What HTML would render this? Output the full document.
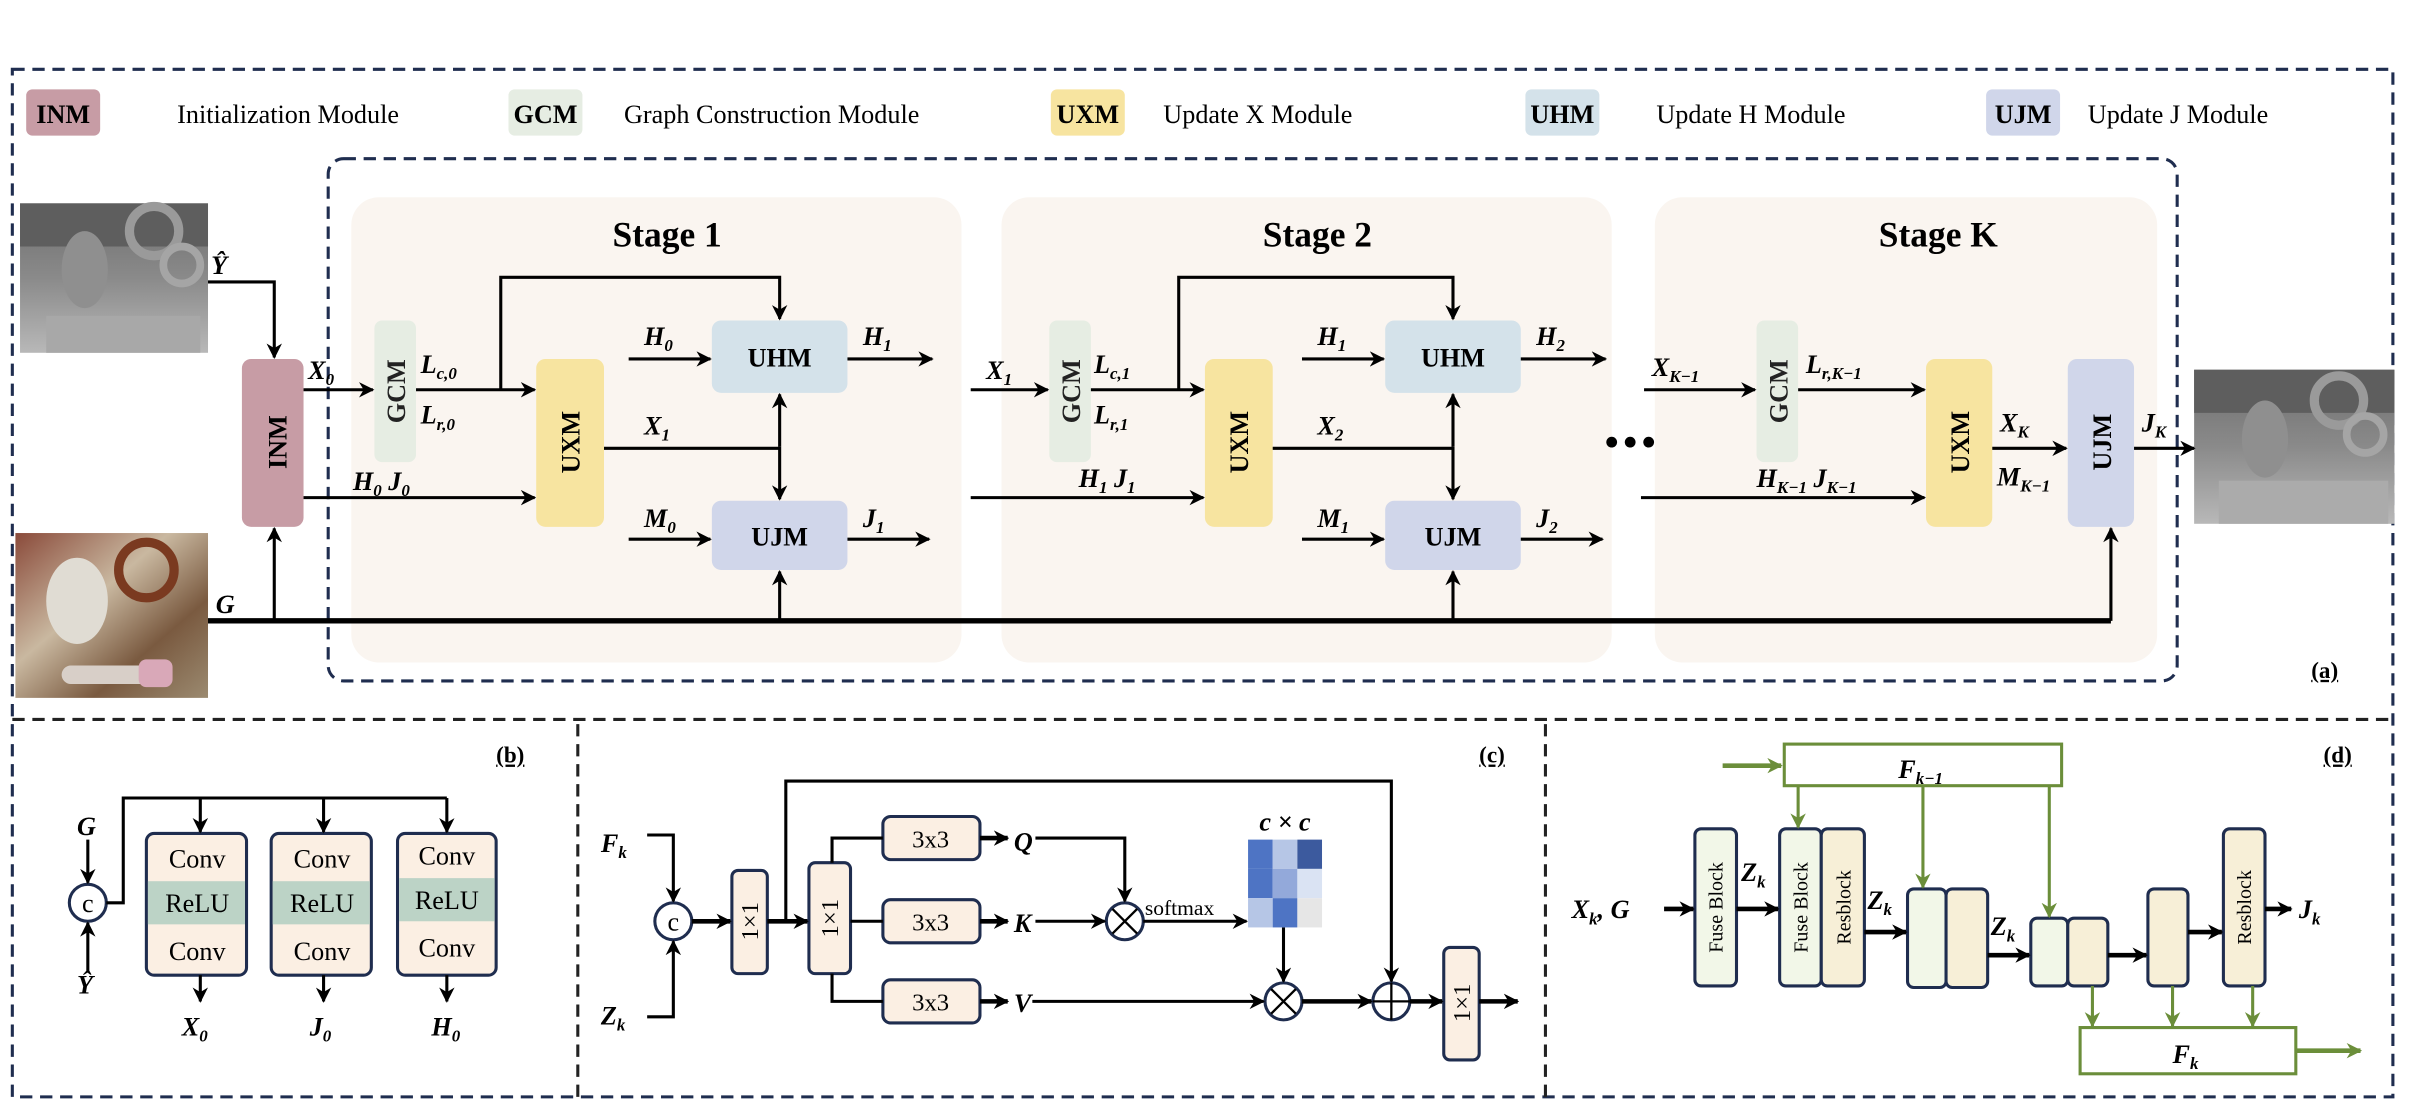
<!DOCTYPE html>
<html><head><meta charset="utf-8"><style>
html,body{margin:0;padding:0;background:#fff;width:2416px;height:1120px;overflow:hidden}
svg{display:block}
text{font-family:"Liberation Serif",serif}
.m{font-weight:bold;font-style:italic;font-size:17px}
.s{font-size:11px}
.lg{font-size:17px}
.bx{font-weight:bold;font-size:17px}
</style></head><body>
<svg width="2416" height="1120" viewBox="0 0 1568 727" preserveAspectRatio="none" xmlns="http://www.w3.org/2000/svg">
<defs>
<marker id="a" viewBox="0 0 10 10" refX="9" refY="5" markerWidth="10" markerHeight="10" markerUnits="userSpaceOnUse" orient="auto"><path d="M0,0 L10,5 L0,10 L3,5z" fill="#000"/></marker>
<marker id="g" viewBox="0 0 10 10" refX="9" refY="5" markerWidth="10" markerHeight="10" markerUnits="userSpaceOnUse" orient="auto"><path d="M0,0 L10,5 L0,10 L3,5z" fill="#6b8e3a"/></marker>
<linearGradient id="dep" x1="0" y1="0" x2="0" y2="1"><stop offset="0" stop-color="#6e6e6e"/><stop offset="0.5" stop-color="#8a8a8a"/><stop offset="1" stop-color="#b8b8b8"/></linearGradient>
<linearGradient id="rgb" x1="0" y1="0" x2="1" y2="1"><stop offset="0" stop-color="#8a4a3a"/><stop offset="0.4" stop-color="#c9b8a0"/><stop offset="0.7" stop-color="#7a5a40"/><stop offset="1" stop-color="#9b8a70"/></linearGradient>
</defs>

<g fill="none" stroke="#1f2d4f" stroke-width="2" stroke-dasharray="8,5">
<rect x="8" y="45" width="1545" height="667"/>
<line x1="8" y1="467" x2="1553" y2="467" stroke="#222"/>
<line x1="375" y1="470" x2="375" y2="712" stroke="#222"/>
<line x1="1003" y1="470" x2="1003" y2="712" stroke="#222"/>
<rect x="213" y="103" width="1200" height="339" rx="10"/>
</g>

<rect x="17" y="58" width="48" height="30" rx="4" fill="#c79ca5"/><text x="41" y="80" text-anchor="middle" class="bx">INM</text>
<text x="115" y="80" class="lg">Initialization Module</text>
<rect x="330" y="58" width="48" height="30" rx="4" fill="#e6ede3"/><text x="354" y="80" text-anchor="middle" class="bx">GCM</text>
<text x="405" y="80" class="lg">Graph Construction Module</text>
<rect x="682" y="58" width="48" height="30" rx="4" fill="#f7e4a0"/><text x="706" y="80" text-anchor="middle" class="bx">UXM</text>
<text x="755" y="80" class="lg">Update X Module</text>
<rect x="990" y="58" width="48" height="30" rx="4" fill="#d4e2ea"/><text x="1014" y="80" text-anchor="middle" class="bx">UHM</text>
<text x="1075" y="80" class="lg">Update H Module</text>
<rect x="1289" y="58" width="48" height="30" rx="4" fill="#d0d6ea"/><text x="1313" y="80" text-anchor="middle" class="bx">UJM</text>
<text x="1355" y="80" class="lg">Update J Module</text>

<rect x="228" y="128" width="396" height="302" rx="18" fill="#faf5f0"/>
<rect x="650" y="128" width="396" height="302" rx="18" fill="#faf5f0"/>
<rect x="1074" y="128" width="326" height="302" rx="18" fill="#faf5f0"/>
<text x="433" y="160" text-anchor="middle" font-weight="bold" font-size="23">Stage 1</text>
<text x="855" y="160" text-anchor="middle" font-weight="bold" font-size="23">Stage 2</text>
<text x="1258" y="160" text-anchor="middle" font-weight="bold" font-size="23">Stage K</text>

<rect x="13" y="132" width="122" height="97" fill="url(#dep)"/>
<rect x="13" y="132" width="122" height="28" fill="#5e5e5e"/>
<ellipse cx="55" cy="175" rx="15" ry="25" fill="#8f8f8f"/>
<circle cx="100" cy="150" r="16" fill="none" stroke="#9a9a9a" stroke-width="6"/>
<circle cx="118" cy="172" r="12" fill="none" stroke="#a5a5a5" stroke-width="5"/>
<rect x="30" y="205" width="100" height="24" fill="#a8a8a8"/>
<rect x="10" y="346" width="125" height="107" fill="url(#rgb)"/>
<ellipse cx="50" cy="390" rx="20" ry="28" fill="#e0dcd3"/>
<circle cx="95" cy="370" r="18" fill="none" stroke="#7a3a20" stroke-width="6"/>
<rect x="40" y="432" width="60" height="12" rx="6" fill="#d8cfc8"/>
<rect x="90" y="428" width="22" height="18" rx="5" fill="#d9a8b8"/>
<rect x="1424" y="240" width="130" height="100" fill="url(#dep)"/>
<rect x="1424" y="240" width="130" height="28" fill="#5e5e5e"/>
<ellipse cx="1470" cy="285" rx="15" ry="25" fill="#8f8f8f"/>
<circle cx="1518" cy="260" r="16" fill="none" stroke="#9a9a9a" stroke-width="6"/>
<circle cx="1535" cy="282" r="12" fill="none" stroke="#a5a5a5" stroke-width="5"/>
<rect x="1440" y="312" width="110" height="28" fill="#ababab"/>

<g>
<rect x="157" y="233" width="40" height="109" rx="6" fill="#c79ca5"/>
<text transform="translate(186,287) rotate(-90)" text-anchor="middle" class="bx">INM</text>
<rect x="243" y="208" width="27" height="92" rx="5" fill="#e6ede3"/>
<text transform="translate(263,254) rotate(-90)" text-anchor="middle" class="bx" fill="#222">GCM</text>
<rect x="348" y="233" width="44" height="109" rx="6" fill="#f7e4a0"/>
<text transform="translate(376,287) rotate(-90)" text-anchor="middle" class="bx">UXM</text>
<rect x="462" y="208" width="88" height="47" rx="6" fill="#d4e2ea"/><text x="506" y="238" text-anchor="middle" class="bx">UHM</text>
<rect x="462" y="325" width="88" height="45" rx="6" fill="#d0d6ea"/><text x="506" y="354" text-anchor="middle" class="bx">UJM</text>
<rect x="681" y="208" width="27" height="92" rx="5" fill="#e6ede3"/>
<text transform="translate(701,254) rotate(-90)" text-anchor="middle" class="bx" fill="#222">GCM</text>
<rect x="782" y="233" width="44" height="109" rx="6" fill="#f7e4a0"/>
<text transform="translate(810,287) rotate(-90)" text-anchor="middle" class="bx">UXM</text>
<rect x="899" y="208" width="88" height="47" rx="6" fill="#d4e2ea"/><text x="943" y="238" text-anchor="middle" class="bx">UHM</text>
<rect x="899" y="325" width="88" height="45" rx="6" fill="#d0d6ea"/><text x="943" y="354" text-anchor="middle" class="bx">UJM</text>
<rect x="1140" y="208" width="27" height="92" rx="5" fill="#e6ede3"/>
<text transform="translate(1160,254) rotate(-90)" text-anchor="middle" class="bx" fill="#222">GCM</text>
<rect x="1250" y="233" width="43" height="109" rx="6" fill="#f7e4a0"/>
<text transform="translate(1278,287) rotate(-90)" text-anchor="middle" class="bx">UXM</text>
<rect x="1342" y="233" width="43" height="109" rx="6" fill="#d0d6ea"/>
<text transform="translate(1370,287) rotate(-90)" text-anchor="middle" class="bx">UJM</text>
</g>

<g fill="none" stroke="#000" stroke-width="2">
<polyline points="135,183 178,183 178,232" marker-end="url(#a)"/>
<line x1="135" y1="403" x2="1370" y2="403" stroke-width="3.5"/>
<line x1="178" y1="403" x2="178" y2="343" marker-end="url(#a)"/>
<line x1="197" y1="253" x2="242" y2="253" marker-end="url(#a)"/>
<line x1="197" y1="323" x2="347" y2="323" marker-end="url(#a)"/>
<line x1="270" y1="253" x2="347" y2="253" marker-end="url(#a)"/>
<polyline points="325,253 325,180 506,180 506,207" marker-end="url(#a)"/>
<line x1="408" y1="233" x2="461" y2="233" marker-end="url(#a)"/>
<line x1="550" y1="233" x2="605" y2="233" marker-end="url(#a)"/>
<line x1="392" y1="291" x2="506" y2="291"/>
<line x1="506" y1="290" x2="506" y2="256" marker-end="url(#a)"/>
<line x1="506" y1="290" x2="506" y2="324" marker-end="url(#a)"/>
<line x1="408" y1="350" x2="461" y2="350" marker-end="url(#a)"/>
<line x1="550" y1="350" x2="603" y2="350" marker-end="url(#a)"/>
<line x1="506" y1="403" x2="506" y2="371" marker-end="url(#a)"/>

<line x1="630" y1="253" x2="680" y2="253" marker-end="url(#a)"/>
<line x1="630" y1="323" x2="781" y2="323" marker-end="url(#a)"/>
<line x1="708" y1="253" x2="781" y2="253" marker-end="url(#a)"/>
<polyline points="765,253 765,180 943,180 943,207" marker-end="url(#a)"/>
<line x1="845" y1="233" x2="898" y2="233" marker-end="url(#a)"/>
<line x1="987" y1="233" x2="1042" y2="233" marker-end="url(#a)"/>
<line x1="826" y1="291" x2="943" y2="291"/>
<line x1="943" y1="290" x2="943" y2="256" marker-end="url(#a)"/>
<line x1="943" y1="290" x2="943" y2="324" marker-end="url(#a)"/>
<line x1="845" y1="350" x2="898" y2="350" marker-end="url(#a)"/>
<line x1="987" y1="350" x2="1040" y2="350" marker-end="url(#a)"/>
<line x1="943" y1="403" x2="943" y2="371" marker-end="url(#a)"/>

<line x1="1067" y1="253" x2="1139" y2="253" marker-end="url(#a)"/>
<line x1="1167" y1="253" x2="1249" y2="253" marker-end="url(#a)"/>
<line x1="1065" y1="323" x2="1249" y2="323" marker-end="url(#a)"/>
<line x1="1293" y1="291" x2="1341" y2="291" marker-end="url(#a)"/>
<line x1="1370" y1="403" x2="1370" y2="343" marker-end="url(#a)"/>
<line x1="1385" y1="291" x2="1424" y2="291" marker-end="url(#a)"/>
</g>
<circle cx="1046" cy="287" r="3.5"/><circle cx="1058" cy="287" r="3.5"/><circle cx="1070" cy="287" r="3.5"/>

<g class="m">
<text x="137" y="178" class="m">Ŷ</text>
<text x="140" y="398" class="m">G</text>
<text x="200" y="246" class="m">X<tspan class="s" dy="4">0</tspan></text>
<text x="229" y="318" class="m">H<tspan class="s" dy="4">0</tspan><tspan dy="-4">  J</tspan><tspan class="s" dy="4">0</tspan></text>
<text x="273" y="242" class="m">L<tspan class="s" dy="4">c,0</tspan></text>
<text x="273" y="275" class="m">L<tspan class="s" dy="4">r,0</tspan></text>
<text x="418" y="224" class="m">H<tspan class="s" dy="4">0</tspan></text>
<text x="560" y="224" class="m">H<tspan class="s" dy="4">1</tspan></text>
<text x="418" y="282" class="m">X<tspan class="s" dy="4">1</tspan></text>
<text x="418" y="342" class="m">M<tspan class="s" dy="4">0</tspan></text>
<text x="560" y="342" class="m">J<tspan class="s" dy="4">1</tspan></text>
<text x="640" y="246" class="m">X<tspan class="s" dy="4">1</tspan></text>
<text x="710" y="242" class="m">L<tspan class="s" dy="4">c,1</tspan></text>
<text x="710" y="275" class="m">L<tspan class="s" dy="4">r,1</tspan></text>
<text x="700" y="316" class="m">H<tspan class="s" dy="4">1</tspan><tspan dy="-4">  J</tspan><tspan class="s" dy="4">1</tspan></text>
<text x="855" y="224" class="m">H<tspan class="s" dy="4">1</tspan></text>
<text x="997" y="224" class="m">H<tspan class="s" dy="4">2</tspan></text>
<text x="855" y="282" class="m">X<tspan class="s" dy="4">2</tspan></text>
<text x="855" y="342" class="m">M<tspan class="s" dy="4">1</tspan></text>
<text x="997" y="342" class="m">J<tspan class="s" dy="4">2</tspan></text>
<text x="1072" y="244" class="m">X<tspan class="s" dy="4">K−1</tspan></text>
<text x="1172" y="242" class="m">L<tspan class="s" dy="4">r,K−1</tspan></text>
<text x="1140" y="316" class="m">H<tspan class="s" dy="4">K−1</tspan><tspan dy="-4"> J</tspan><tspan class="s" dy="4">K−1</tspan></text>
<text x="1298" y="280" class="m">X<tspan class="s" dy="4">K</tspan></text>
<text x="1296" y="315" class="m">M<tspan class="s" dy="4">K−1</tspan></text>
<text x="1390" y="280" class="m">J<tspan class="s" dy="4">K</tspan></text>
</g>
<text x="1500" y="440" font-weight="bold" font-size="15" text-decoration="underline">(a)</text>
<text x="322" y="495" font-weight="bold" font-size="15" text-decoration="underline">(b)</text>
<text x="960" y="495" font-weight="bold" font-size="15" text-decoration="underline">(c)</text>
<text x="1508" y="495" font-weight="bold" font-size="15" text-decoration="underline">(d)</text>

<!-- (b) -->
<g stroke="#1f2d4f" stroke-width="2">
<rect x="95" y="541" width="65" height="92" rx="5" fill="#fbefe3"/>
<rect x="176" y="541" width="65" height="92" rx="5" fill="#fbefe3"/>
<rect x="258" y="541" width="64" height="92" rx="5" fill="#fbefe3"/>
</g>
<rect x="96" y="572" width="63" height="28" fill="#bcd3c6"/>
<rect x="177" y="572" width="63" height="28" fill="#bcd3c6"/>
<rect x="259" y="570" width="62" height="28" fill="#bcd3c6"/>
<g font-size="17" text-anchor="middle">
<text x="128" y="563">Conv</text><text x="128" y="592">ReLU</text><text x="128" y="623">Conv</text>
<text x="209" y="563">Conv</text><text x="209" y="592">ReLU</text><text x="209" y="623">Conv</text>
<text x="290" y="561">Conv</text><text x="290" y="590">ReLU</text><text x="290" y="621">Conv</text>
</g>
<circle cx="57" cy="586" r="12" fill="#fff" stroke="#1f2d4f" stroke-width="2"/>
<text x="57" y="592" text-anchor="middle" font-size="17">c</text>
<g fill="none" stroke="#000" stroke-width="2">
<line x1="57" y1="545" x2="57" y2="573" marker-end="url(#a)"/>
<line x1="57" y1="630" x2="57" y2="599" marker-end="url(#a)"/>
<polyline points="69,586 80,586 80,518 290,518"/>
<line x1="130" y1="518" x2="130" y2="540" marker-end="url(#a)"/>
<line x1="210" y1="518" x2="210" y2="540" marker-end="url(#a)"/>
<line x1="290" y1="518" x2="290" y2="540" marker-end="url(#a)"/>
<line x1="130" y1="633" x2="130" y2="650" marker-end="url(#a)"/>
<line x1="210" y1="633" x2="210" y2="650" marker-end="url(#a)"/>
<line x1="290" y1="633" x2="290" y2="650" marker-end="url(#a)"/>
</g>
<text x="50" y="542" class="m">G</text>
<text x="50" y="645" class="m">Ŷ</text>
<text x="118" y="672" class="m">X<tspan class="s" dy="4">0</tspan></text>
<text x="201" y="672" class="m">J<tspan class="s" dy="4">0</tspan></text>
<text x="280" y="672" class="m">H<tspan class="s" dy="4">0</tspan></text>

<!-- (c) -->
<g stroke="#1f2d4f" stroke-width="2" fill="#fbefe3">
<rect x="475" y="565" width="23" height="67" rx="4"/>
<rect x="525" y="560" width="27" height="72" rx="4"/>
<rect x="573" y="530" width="63" height="28" rx="5"/>
<rect x="573" y="584" width="63" height="28" rx="5"/>
<rect x="573" y="636" width="63" height="28" rx="5"/>
<rect x="937" y="615" width="23" height="73" rx="4"/>
</g>
<g font-size="16" text-anchor="middle">
<text transform="translate(492,598) rotate(-90)">1×1</text>
<text transform="translate(544,596) rotate(-90)">1×1</text>
<text transform="translate(954,651) rotate(-90)">1×1</text>
<text x="604" y="550">3x3</text><text x="604" y="604">3x3</text><text x="604" y="656">3x3</text>
</g>
<g fill="#fff" stroke="#1f2d4f" stroke-width="2">
<circle cx="437" cy="598" r="12"/>
<circle cx="730" cy="598" r="12"/>
<circle cx="833" cy="650" r="12"/>
<circle cx="903" cy="650" r="12"/>
</g>
<text x="437" y="604" text-anchor="middle" font-size="17">c</text>
<g stroke="#000" stroke-width="1.5">
<line x1="722" y1="590" x2="738" y2="606"/><line x1="738" y1="590" x2="722" y2="606"/>
<line x1="825" y1="642" x2="841" y2="658"/><line x1="841" y1="642" x2="825" y2="658"/>
<line x1="891" y1="650" x2="915" y2="650"/><line x1="903" y1="638" x2="903" y2="662"/>
</g>
<g fill="none" stroke="#000" stroke-width="2">
<polyline points="420,542 437,542 437,585" marker-end="url(#a)"/>
<polyline points="420,660 437,660 437,611" marker-end="url(#a)"/>
<line x1="449" y1="598" x2="474" y2="598" marker-end="url(#a)" stroke-width="3"/>
<line x1="498" y1="598" x2="524" y2="598" marker-end="url(#a)" stroke-width="3"/>
<polyline points="510,598 510,507 903,507 903,637" marker-end="url(#a)"/>
<polyline points="573,544 540,544 540,560"/>
<line x1="552" y1="598" x2="573" y2="598"/>
<polyline points="540,632 540,650 573,650"/>
<line x1="636" y1="544" x2="654" y2="544" marker-end="url(#a)" stroke-width="3"/>
<line x1="636" y1="598" x2="654" y2="598" marker-end="url(#a)" stroke-width="3"/>
<line x1="636" y1="650" x2="654" y2="650" marker-end="url(#a)" stroke-width="3"/>
<polyline points="672,544 730,544 730,585" marker-end="url(#a)"/>
<line x1="672" y1="598" x2="717" y2="598" marker-end="url(#a)"/>
<line x1="742" y1="598" x2="809" y2="598" marker-end="url(#a)"/>
<line x1="833" y1="602" x2="833" y2="637" marker-end="url(#a)"/>
<line x1="670" y1="650" x2="820" y2="650" marker-end="url(#a)"/>
<line x1="845" y1="650" x2="890" y2="650" marker-end="url(#a)" stroke-width="3"/>
<line x1="915" y1="650" x2="936" y2="650" marker-end="url(#a)" stroke-width="3"/>
<line x1="960" y1="650" x2="985" y2="650" marker-end="url(#a)" stroke-width="3"/>
</g>
<text x="743" y="594" font-size="14">softmax</text>
<g>
<rect x="810" y="545" width="16" height="19" fill="#4e74c4"/><rect x="826" y="545" width="16" height="19" fill="#b6c6e6"/><rect x="842" y="545" width="16" height="19" fill="#3c5a9e"/>
<rect x="810" y="564" width="16" height="19" fill="#4e74c4"/><rect x="826" y="564" width="16" height="19" fill="#93a9da"/><rect x="842" y="564" width="16" height="19" fill="#dae3f3"/>
<rect x="810" y="583" width="16" height="19" fill="#b6c6e6"/><rect x="826" y="583" width="16" height="19" fill="#4e74c4"/><rect x="842" y="583" width="16" height="19" fill="#e6e6e6"/>
</g>
<text x="834" y="539" text-anchor="middle" class="m">c × c</text>
<text x="390" y="553" class="m">F<tspan class="s" dy="4">k</tspan></text>
<text x="390" y="665" class="m">Z<tspan class="s" dy="4">k</tspan></text>
<text x="658" y="552" class="m">Q</text>
<text x="658" y="605" class="m">K</text>
<text x="658" y="657" class="m">V</text>

<!-- (d) -->
<g stroke="#6b8e3a" stroke-width="2" fill="#fff">
<rect x="1158" y="483" width="180" height="27"/>
<rect x="1350" y="667" width="140" height="30"/>
</g>
<text x="1232" y="505" class="m">F<tspan class="s" dy="4">k−1</tspan></text>
<text x="1410" y="690" class="m">F<tspan class="s" dy="4">k</tspan></text>
<g stroke="#1f2d4f" stroke-width="2">
<rect x="1100" y="538" width="27" height="102" rx="4" fill="#f2f7e8"/>
<rect x="1155" y="538" width="27" height="102" rx="4" fill="#f2f7e8"/>
<rect x="1182" y="538" width="28" height="102" rx="4" fill="#f7efd7"/>
<rect x="1238" y="577" width="25" height="64" rx="4" fill="#f2f7e8"/>
<rect x="1263" y="577" width="27" height="64" rx="4" fill="#f7efd7"/>
<rect x="1318" y="596" width="24" height="44" rx="4" fill="#f2f7e8"/>
<rect x="1342" y="596" width="26" height="44" rx="4" fill="#f7efd7"/>
<rect x="1394" y="577" width="26" height="63" rx="4" fill="#f7efd7"/>
<rect x="1443" y="538" width="27" height="102" rx="4" fill="#f7efd7"/>
</g>
<g font-size="13" text-anchor="middle">
<text transform="translate(1118,589) rotate(-90)" font-family="DejaVu Serif">Fuse Block</text>
<text transform="translate(1173,589) rotate(-90)" font-family="DejaVu Serif">Fuse Block</text>
<text transform="translate(1201,589) rotate(-90)" font-family="DejaVu Serif">Resblock</text>
<text transform="translate(1461,589) rotate(-90)" font-family="DejaVu Serif">Resblock</text>
</g>
<g fill="none" stroke="#000" stroke-width="3">
<line x1="1080" y1="590" x2="1099" y2="590" marker-end="url(#a)"/>
<line x1="1127" y1="590" x2="1154" y2="590" marker-end="url(#a)"/>
<line x1="1210" y1="605" x2="1237" y2="605" marker-end="url(#a)"/>
<line x1="1290" y1="620" x2="1317" y2="620" marker-end="url(#a)"/>
<line x1="1368" y1="620" x2="1393" y2="620" marker-end="url(#a)"/>
<line x1="1420" y1="605" x2="1442" y2="605" marker-end="url(#a)"/>
<line x1="1470" y1="590" x2="1487" y2="590" marker-end="url(#a)"/>
</g>
<g fill="none" stroke="#6b8e3a" stroke-width="2">
<line x1="1118" y1="497" x2="1156" y2="497" marker-end="url(#g)" stroke-width="3"/>
<line x1="1167" y1="510" x2="1167" y2="537" marker-end="url(#g)"/>
<line x1="1248" y1="510" x2="1248" y2="576" marker-end="url(#g)"/>
<line x1="1330" y1="510" x2="1330" y2="595" marker-end="url(#g)"/>
<line x1="1358" y1="640" x2="1358" y2="666" marker-end="url(#g)"/>
<line x1="1410" y1="640" x2="1410" y2="666" marker-end="url(#g)"/>
<line x1="1462" y1="640" x2="1462" y2="666" marker-end="url(#g)"/>
<line x1="1490" y1="682" x2="1532" y2="682" marker-end="url(#g)" stroke-width="3"/>
</g>
<text x="1020" y="596" class="m">X<tspan class="s" dy="4">k</tspan><tspan dy="-4">, G</tspan></text>
<text x="1130" y="572" class="m">Z<tspan class="s" dy="4">k</tspan></text>
<text x="1212" y="590" class="m">Z<tspan class="s" dy="4">k</tspan></text>
<text x="1292" y="607" class="m">Z<tspan class="s" dy="4">k</tspan></text>
<text x="1492" y="596" class="m">J<tspan class="s" dy="4">k</tspan></text>
</svg>
</body></html>
